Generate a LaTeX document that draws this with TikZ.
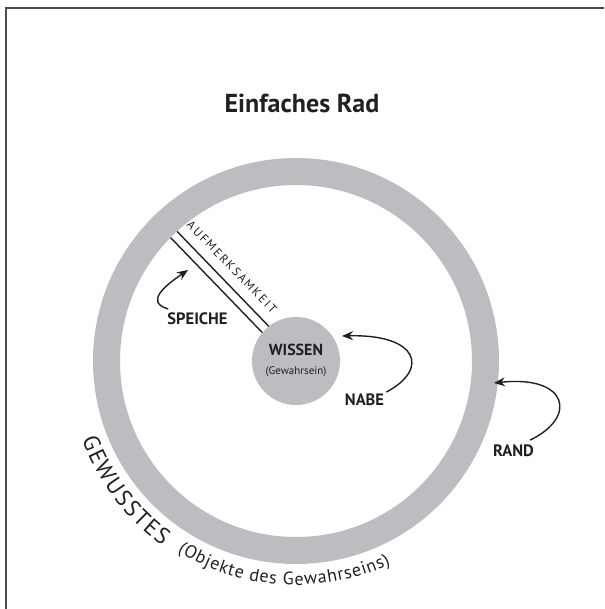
\documentclass[tikz,border=0pt]{standalone}
\usepackage{fontspec}
\setmainfont{PT Sans}
\newfontfamily\spokefont[LetterSpace=16]{PT Sans}
\usetikzlibrary{arrows.meta,decorations.text,calc}

\definecolor{ringgray}{RGB}{188,189,192}
\definecolor{ink}{RGB}{35,31,32}

\newcommand{\gewfont}{\fontsize{23}{23}\selectfont}
\newcommand{\objfont}{\fontsize{18}{18}\selectfont}

\tikzset{
	pointer/.style={ink, line width=1.4pt, -{Stealth[length=11pt,width=9pt]}},
	spoke/.style={ink, line width=1.4pt},
	tag/.style={text=ink, inner sep=2pt, font=\bfseries\fontsize{16.5}{17}\selectfont},
}

\begin{document}
\begin{tikzpicture}[x=1pt,y=1pt]
	\useasboundingbox (0,0) rectangle (604,609);
	\draw[line width=1.3pt, black!70] (6,0) -- (6,601) -- (604,601);
	
	\coordinate (c) at (296,248);
	% spoke
	\draw[spoke] ($(c)+(134:40)+(44:4.5)$) -- ($(c)+(134:180)+(44:4.5)$);
	\draw[spoke] ($(c)+(134:40)+(224:4.5)$) -- ($(c)+(134:180)+(224:4.5)$);
	
	% rim and hub
	\draw[ringgray, line width=27pt] (c) circle (189.5);
	\node[circle, fill=ringgray, minimum size=88pt, inner sep=0pt, align=center, text=ink] (hub) at (c)
		{\bfseries\fontsize{16}{20}\selectfont WISSEN\\[7pt]\mdseries\fontsize{11}{13}\selectfont (Gewahrsein)};
	
	\node[anchor=base, text=ink, font=\bfseries\fontsize{26}{26}\selectfont] (title) at (302,496) {Einfaches Rad};
	\node[rotate=-46, text=ink, inner sep=1pt, font=\spokefont\fontsize{12}{12}\selectfont] (aufm) at (232,342) {AUFMERKSAMKEIT};
	
	\node[tag, anchor=base] (speiche) at (197.5,284) {SPEICHE};
	\node[tag, anchor=base] (nabe) at (364.5,203) {NABE};
	\node[tag, anchor=base] (rand) at (513.5,152) {RAND};
	
	\coordinate (speichetip) at (188,339);
	\coordinate (nabetip) at (342,273);
	\coordinate (randtip) at (494,226);
	
	\draw[pointer] ([shift={(3pt,2pt)}]speiche.north west) .. controls (144,307) and (166,324) .. (speichetip);
	\draw[pointer] (nabe.north east) .. controls (430,240) and (418,275) .. (nabetip);
	\draw[pointer] ([shift={(-6pt,3pt)}]rand.north east) .. controls (578,192) and (568,234) .. (randtip);
	
	% text along the rim
	\path[decorate, decoration={text effects along path, text={GEWUSSTES}, text align=left,
		text effects/.cd, text along path, character widths={font=\gewfont, inner xsep=0.8pt},
		characters={text=ink, font=\gewfont}}]
		($(c)+(200:228)$) arc[start angle=200, end angle=255, radius=228];
	\path[decorate, decoration={text effects along path, text={(Objekte des Gewahrseins)}, text align=left,
		text effects/.cd, text along path, character widths={font=\objfont, inner xsep=0.4pt},
		characters={text=ink, font=\objfont}}]
		($(c)+(238:224)$) arc[start angle=238, end angle=320, radius=224];
\end{tikzpicture}
\end{document}
